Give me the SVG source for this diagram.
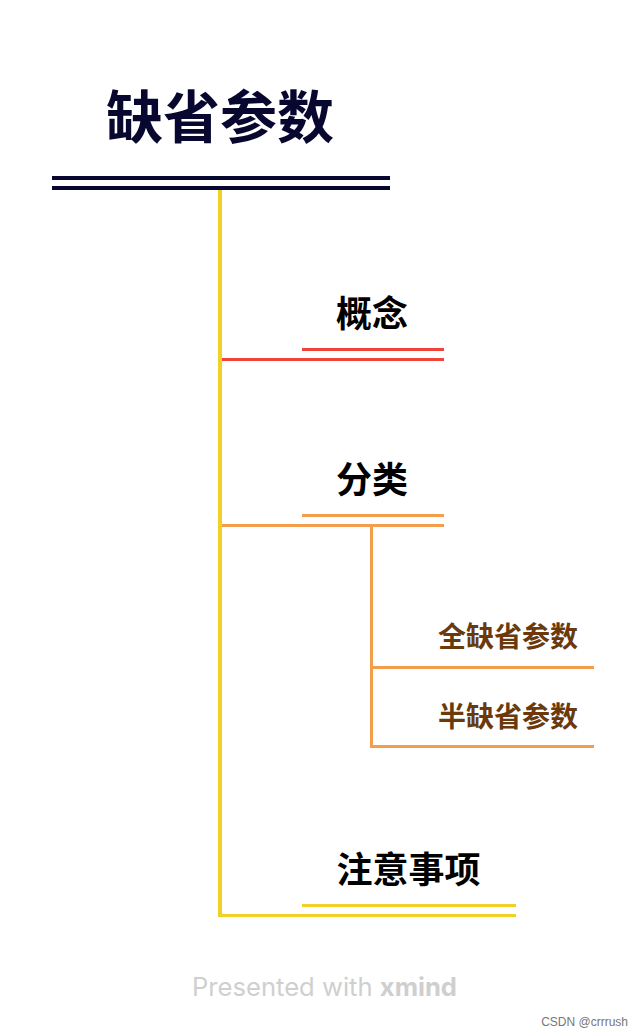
<svg xmlns="http://www.w3.org/2000/svg" width="644" height="1036" viewBox="0 0 644 1036">
<style>
.t{font-family:"Noto Sans CJK SC","Noto Sans",sans-serif;font-weight:bold;text-anchor:middle}
.y{fill:#f2d024}.r{fill:#f0443a}.o{fill:#f49d4c}.n{fill:#070730}
</style>
<rect width="644" height="1036" fill="#fff"/>
<g id="connectors">
<rect class="y" x="218" y="190" width="4" height="727"/>
<rect class="r" x="222" y="358" width="222" height="3"/>
<rect class="o" x="222" y="524" width="222" height="3"/>
<rect class="o" x="370" y="527" width="3" height="221"/>
<rect class="o" x="373" y="666" width="221" height="3"/>
<rect class="o" x="373" y="745" width="221" height="3"/>
<rect class="y" x="222" y="914" width="294" height="3"/>
</g>
<g id="root">
<text class="t" x="220" y="138" font-size="57" fill="#070730">缺省参数</text>
<rect class="n" x="52" y="176" width="338" height="4"/>
<rect class="n" x="52" y="186" width="338" height="4"/>
</g>
<g id="n1">
<text class="t" x="372" y="327" font-size="36" fill="#000">概念</text>
<rect class="r" x="302" y="348" width="142" height="3"/>
</g>
<g id="n2">
<text class="t" x="372" y="493" font-size="36" fill="#000">分类</text>
<rect class="o" x="302" y="514" width="142" height="3"/>
</g>
<g id="n21">
<text class="t" x="508" y="647" font-size="28" fill="#6b3a0c">全缺省参数</text>
</g>
<g id="n22">
<text class="t" x="508" y="727" font-size="28" fill="#6b3a0c">半缺省参数</text>
</g>
<g id="n3">
<text class="t" x="408.5" y="883" font-size="36" fill="#000">注意事项</text>
<rect class="y" x="302" y="904" width="214" height="3"/>
</g>
<text x="192" y="996" font-family="Inter,'Noto Sans',sans-serif" font-size="25.6" fill="#cfcfcf">Presented with <tspan font-weight="bold">xmind</tspan></text>
<text x="628" y="1026" text-anchor="end" font-family="'Liberation Sans',Arial,sans-serif" font-size="12" fill="#777">CSDN @crrrush</text>
</svg>
